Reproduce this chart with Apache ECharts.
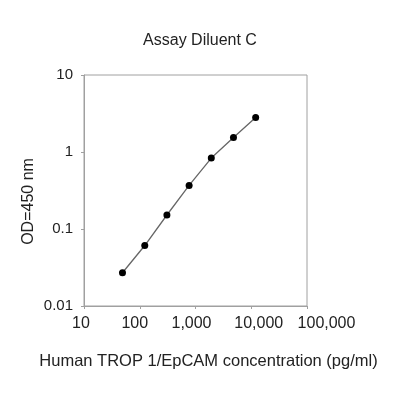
<!DOCTYPE html>
<html><head><meta charset="utf-8">
<script src="https://cdn.jsdelivr.net/npm/echarts@6/dist/echarts.min.js"></script>
<style>html,body{margin:0;padding:0;background:#fff}#c{width:400px;height:400px}</style>
</head><body><div id="c"></div>
<script>
var concentrations = [49, 123, 307, 768, 1920, 4800, 12000];
var odValues = [0.027, 0.061, 0.152, 0.368, 0.834, 1.54, 2.80];
var xTicks = [10, 100, 1000, 10000, 100000];
var yTicks = [0.01, 0.1, 1, 10];
var titleText = 'Assay Diluent C';
var xName = 'Human TROP 1/EpCAM concentration (pg/ml)';
var yName = 'OD=450 nm';

// label nudges (layout only): [paddingLeft, paddingRight] per x tick label
var xLabelPad = [[0, 6], [0, 10], [0, 8], [15, 0], [39, 0]];

var font = 'Liberation Sans, Arial, sans-serif';
var chart = echarts.init(document.getElementById('c'), null, {renderer: 'canvas'});
function nearestIndex(v, list) {
  var bi = 0;
  list.forEach(function (t, i) { if (Math.abs(Math.log10(t) - Math.log10(v)) < Math.abs(Math.log10(list[bi]) - Math.log10(v))) bi = i; });
  return bi;
}
function label(v) { return v >= 1000 ? v.toLocaleString('en-US') : String(v); }
var rich = {};
xLabelPad.forEach(function (p, i) {
  rich['x' + i] = {fontFamily: font, fontSize: 16, color: '#222', padding: [0, p[1], 0, p[0]]};
});
chart.setOption({
  animation: false,
  backgroundColor: '#fff',
  title: {text: titleText, left: 'center', top: 28, textStyle: {fontFamily: font, fontSize: 16, fontWeight: 'normal', color: '#222'}},
  grid: {left: 84, right: 93, top: 75, bottom: 94, show: true, borderColor: '#a0a0a0', borderWidth: 1},
  xAxis: {
    type: 'log', logBase: 10, min: xTicks[0], max: xTicks[xTicks.length - 1],
    name: xName, nameLocation: 'middle', nameGap: 47, nameMoveOverlap: false,
    nameTextStyle: {fontFamily: font, fontSize: 16.5, color: '#222', padding: [0, 0, 0, 26]},
    axisLine: {lineStyle: {color: '#a0a0a0', width: 1}},
    axisTick: {show: true, length: 3, lineStyle: {color: '#a0a0a0'}},
    minorTick: {show: false},
    splitLine: {show: false},
    axisLabel: {fontFamily: font, fontSize: 16, color: '#222', margin: 10, rich: rich,
      formatter: function (v) { var i = nearestIndex(v, xTicks); return '{x' + i + '|' + label(xTicks[i]) + '}'; }}
  },
  yAxis: {
    type: 'log', logBase: 10, min: yTicks[0], max: yTicks[yTicks.length - 1],
    name: yName, nameLocation: 'middle', nameGap: 47, nameRotate: 90, nameMoveOverlap: false,
    nameTextStyle: {fontFamily: font, fontSize: 16, color: '#222', padding: [0, 22, 0, 0]},
    axisLine: {show: true, lineStyle: {color: '#a0a0a0', width: 1}},
    axisTick: {show: true, length: 3, lineStyle: {color: '#a0a0a0'}},
    splitLine: {show: false},
    axisLabel: {fontFamily: font, fontSize: 15, color: '#222', margin: 11,
      formatter: function (v) { return label(yTicks[nearestIndex(v, yTicks)]); }}
  },
  series: [{
    type: 'line',
    data: concentrations.map(function (c, i) { return [c, odValues[i]]; }),
    symbol: 'circle', symbolSize: 7,
    itemStyle: {color: '#000'},
    lineStyle: {color: '#666', width: 1.3}
  }]
});
</script></body></html>
